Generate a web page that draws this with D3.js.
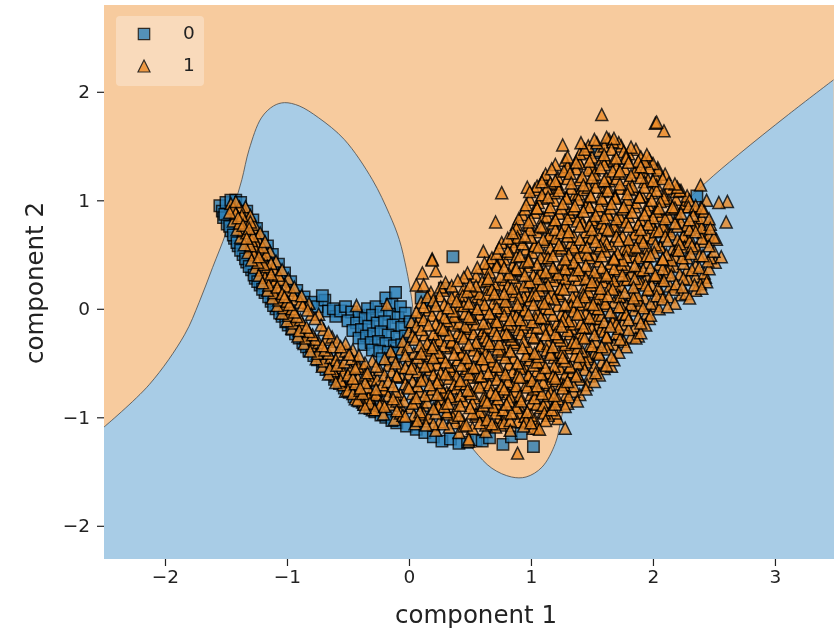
<!DOCTYPE html>
<html>
<head>
<meta charset="utf-8">
<script src="https://cdn.jsdelivr.net/npm/d3@7"></script>
<style>
  html, body { margin: 0; padding: 0; background: #fff; }
  svg { display: block; filter: blur(0.45px); }
  text { font-family: "DejaVu Sans", sans-serif; fill: #222; }
</style>
</head>
<body>
<div id="chart"></div>
<script>
const xTicks = [-2, -1, 0, 1, 2, 3];
const yTicks = [-2, -1, 0, 1, 2];
const legendLabels = ["0", "1"];

// edge between the two decision regions
const boundary = [
  [-2.5,-1.09],[-2.13,-.7],[-1.84,-.24],[-1.72,.06],[-1.61,.38],[-1.5,.7],[-1.43,.96],[-1.37,1.19],
  [-1.31,1.47],[-1.21,1.76],[-1.11,1.87],[-1.02,1.9],[-.9,1.87],[-.74,1.76],[-.53,1.56],[-.3,1.19],
  [-.16,.87],[-.08,.64],[-.02,.36],[.02,.11],[.08,-.38],[.29,-.93],[.53,-1.3],[.68,-1.47],[.84,-1.55],
  [.96,-1.55],[1.09,-1.46],[1.2,-1.24],[1.25,-1],[1.35,-.56],[1.56,-.1],[1.89,.45],[2.21,.91],
  [2.43,1.16],[2.7,1.42],[3.11,1.79],[3.48,2.11]
];

// class 0, long arm
const squaresArm = [
  [-1.55,.95],[-1.53,.9],[-1.5,.98],[-1.46,1],[-1.42,1],[-1.38,.98],[-1.52,.84],[-1.49,.78],[-1.46,.72],
  [-1.43,.65],[-1.4,.58],[-1.36,.5],[-1.33,.43],[-1.29,.36],[-1.26,.28],[-1.22,.22],[-1.18,.15],[-1.13,.07],
  [-1.09,.0],[-1.04,-.07],[-.99,-.15],[-.93,-.23],[-.87,-.31],[-.82,-.39],[-.75,-.47],[-.68,-.56],[-.61,-.65],
  [-.53,-.73],[-.45,-.81],[-.37,-.88],[-.28,-.95],[-.19,-1],[-.1,-1.05],[-1.33,.9],[-1.28,.82],[-1.25,.74],
  [-1.2,.66],[-1.16,.58],[-1.12,.5],[-1.07,.41],[-1.02,.33],[-.97,.25],[-.92,.17],[-.86,.11],[-.8,.06],[-.75,.02],
  [-.69,.08],[-.66,-.02],[-.6,-.07],[-.71,.12],[-.62,.0],[-.56,-.02],
  [-1.51,.87],[-1.47,.76],[-1.44,.68],[-1.41,.61],[-1.38,.54],[-1.34,.46],[-1.31,.39],[-1.27,.31],[-1.24,.25],[-1.2,.18],
  [-1.15,.11],[-1.11,.03],[-1.06,-.04],[-1.01,-.12],[-.96,-.19],[-.9,-.27],[-.84,-.35],[-.78,-.43],[-.71,-.52],[-.64,-.6],
  [-.57,-.69],[-.49,-.77],[-.41,-.85],[-.32,-.92],[-.23,-.98],[-.14,-1.03]
];
// class 0, pocket between the arm and the main cloud
const squaresPocket = [
  [-.52,.02],[-.47,-.03],[-.41,-.06],[-.34,.0],[-.27,.02],[-.19,.1],[-.11,.15],[-.14,.04],[-.07,.02],[-.5,-.11],
  [-.43,-.13],[-.36,-.09],[-.3,-.06],[-.23,-.03],[-.16,-.05],[-.09,-.08],[-.03,-.04],[-.46,-.2],[-.39,-.19],
  [-.33,-.16],[-.26,-.13],[-.2,-.12],[-.13,-.15],[-.06,-.17],[.01,-.12],[-.41,-.27],[-.35,-.25],[-.29,-.23],
  [-.23,-.21],[-.17,-.24],[-.1,-.26],[-.03,-.25],[-.37,-.33],[-.31,-.31],[-.25,-.3],[-.19,-.32],[-.12,-.34],
  [-.06,-.33],[-.3,-.38],[-.24,-.39],[-.17,-.4],[-.1,-.41],[-.22,-.46],[-.15,-.48],[.29,.19],[.36,.48],[.1,.1],[.18,.06]
];
// class 0, under the main cloud and the few on the far side
const squaresEdge = [
  [-.02,-1.08],[.06,-1.11],[.13,-1.14],[.2,-1.18],[.27,-1.22],[.34,-1.2],[.41,-1.24],[.48,-1.23],[.55,-1.21],
  [.6,-1.22],[.66,-1.19],[.77,-1.25],[.84,-1.18],[1.02,-1.27],[.92,-1.15],[2.36,1.04],[1.54,1.44]
];

// class 1, long arm
const trianglesArm = [
  [-1.46,.97],[-1.42,.99],[-1.39,.94],[-1.47,.89],[-1.42,.88],[-1.37,.86],[-1.44,.81],[-1.39,.79],[-1.34,.81],
  [-1.41,.73],[-1.36,.72],[-1.31,.74],[-1.38,.66],[-1.33,.65],[-1.28,.67],[-1.35,.59],[-1.3,.58],[-1.25,.6],
  [-1.32,.52],[-1.27,.5],[-1.22,.53],[-1.29,.45],[-1.24,.43],[-1.19,.46],[-1.26,.38],[-1.21,.36],[-1.16,.39],
  [-1.23,.31],[-1.18,.29],[-1.13,.32],[-1.2,.24],[-1.15,.22],[-1.1,.25],[-1.16,.17],[-1.11,.15],[-1.06,.18],
  [-1.12,.1],[-1.07,.08],[-1.02,.11],[-1.08,.03],[-1.03,.01],[-.98,.04],[-1.04,-.04],[-.99,-.06],[-.94,-.03],
  [-1,-.11],[-.95,-.13],[-.89,-.1],[-.96,-.18],[-.9,-.2],[-.84,-.17],[-.91,-.25],[-.85,-.27],[-.79,-.24],
  [-.86,-.32],[-.8,-.34],[-.74,-.31],[-.68,-.28],[-.81,-.39],[-.75,-.41],[-.69,-.38],[-.63,-.35],[-.76,-.46],
  [-.7,-.48],[-.64,-.45],[-.58,-.42],[-.52,-.39],[-.71,-.53],[-.65,-.55],[-.59,-.52],[-.53,-.49],[-.47,-.46],
  [-.66,-.6],[-.6,-.62],[-.54,-.59],[-.48,-.56],[-.42,-.53],[-.36,-.5],[-.6,-.68],[-.54,-.7],[-.48,-.67],
  [-.42,-.64],[-.36,-.61],[-.52,-.76],[-.46,-.78],[-.4,-.75],[-.34,-.72],[-.44,-.83],[-.38,-.86],[-.32,-.82],
  [-.26,-.8],[-.36,-.91],[-.3,-.93],[-.24,-.89],[-.43,.03],[-.18,.04],[-1.34,.94],[-1.3,.86],[-1.27,.78],
  [-1.22,.7],[-1.18,.62],[-1.14,.53],[-1.09,.44],[-1.04,.36],[-.99,.28],[-.94,.2],[-.88,.12],[-.82,.05],[-.74,-.05],
  [-1.44,.93],[-1.4,.84],[-1.36,.77],[-1.33,.7],[-1.29,.63],[-1.26,.55],[-1.23,.48],[-1.19,.41],[-1.16,.34],[-1.12,.27],
  [-1.08,.2],[-1.04,.14],[-1,.07],[-.96,0],[-.92,-.07],[-.87,-.14],[-.82,-.21],[-.77,-.28],[-.71,-.34],[-.66,-.41],
  [-.6,-.47],[-.55,-.54],[-.5,-.61],[-.44,-.69],[-.38,-.78],[-.32,-.87],[-1.3,.8],[-1.24,.65],[-1.17,.5],[-1.11,.37],
  [-1.05,.27],[-.99,.17],[-.93,.09],[-.87,.03],[-.8,-.05],[-.72,-.15],[-.66,-.22],[-.59,-.3],[-.52,-.32],[-.46,-.38],[-.41,-.43],
  [-1.35,.9],[-1.28,.75],[-1.2,.57],[-1.13,.42],[-1.07,.31],[-1.01,.21],[-.95,.13],[-.89,.06],[-.83,-.01],[-.77,-.09],
  [-.7,-.19],[-.63,-.26],[-.56,-.35],[-.49,-.42],[-.43,-.48],[-.37,-.55],[-.31,-.66],[-.27,-.74]
];
// class 1, main cloud, lower half
const trianglesLow = [
  [.22,-1.12],[.33,-1.09],[.41,-1.14],[.52,-1.1],[.63,-1.13],[.71,-1.09],[.83,-1.12],[.94,-1.08],[1.02,-1.1],[.49,-1.2],
  [-.12,-1.02],[-.03,-.99],[.07,-1.03],[.16,-1],[.25,-1.04],[.36,-1],[.44,-1.03],[.55,-.99],[.64,-1.02],[.74,-1],[.83,-1.03],[.95,-.99],[1.03,-1.02],[1.14,-.98],[1.22,-1.01],
  [-.28,-.93],[-.2,-.9],[-.1,-.94],[.01,-.91],[.09,-.95],[.2,-.92],[.29,-.9],[.38,-.94],[.5,-.91],[.58,-.95],[.69,-.9],[.77,-.93],[.88,-.91],[.97,-.95],[1.08,-.91],[1.17,-.93],[1.28,-.9],
  [-.42,-.84],[-.33,-.82],[-.22,-.86],[-.13,-.83],[-.04,-.85],[.06,-.82],[.15,-.86],[.26,-.83],[.34,-.81],[.45,-.85],[.54,-.82],[.64,-.86],[.73,-.83],[.83,-.81],[.92,-.85],[1.03,-.82],[1.12,-.86],[1.22,-.83],[1.31,-.81],[1.38,-.85],
  [-.5,-.75],[-.4,-.73],[-.31,-.77],[-.2,-.74],[-.11,-.76],[-.01,-.72],[.09,-.76],[.19,-.74],[.28,-.77],[.39,-.73],[.48,-.75],[.58,-.72],[.67,-.77],[.78,-.74],[.87,-.76],[.97,-.72],[1.06,-.75],[1.16,-.77],[1.26,-.73],[1.35,-.76],[1.45,-.74],
  [-.56,-.66],[-.46,-.64],[-.36,-.68],[-.26,-.65],[-.17,-.67],[-.06,-.63],[.03,-.67],[.13,-.65],[.23,-.68],[.33,-.64],[.42,-.66],[.52,-.63],[.62,-.68],[.72,-.65],[.81,-.67],[.91,-.63],[1.01,-.66],[1.1,-.68],[1.2,-.64],[1.3,-.67],[1.4,-.65],[1.52,-.67],
  [-.62,-.57],[-.44,-.55],[-.34,-.59],[-.24,-.56],[-.14,-.58],[-.03,-.54],[.07,-.58],[.17,-.56],[.26,-.59],[.36,-.55],[.46,-.57],[.56,-.54],[.65,-.59],[.75,-.56],[.85,-.58],[.95,-.54],[1.05,-.57],[1.15,-.59],[1.24,-.55],[1.34,-.58],[1.44,-.56],[1.53,-.59],[1.6,-.55],[1.66,-.53],
  [-.3,-.48],[-.2,-.46],[-.11,-.5],[0,-.47],[.1,-.49],[.2,-.45],[.3,-.49],[.4,-.47],[.49,-.5],[.59,-.46],[.69,-.48],[.79,-.45],[.89,-.5],[.99,-.47],[1.09,-.49],[1.19,-.45],[1.28,-.48],[1.38,-.5],[1.48,-.46],[1.58,-.49],[1.68,-.47],
  [-.15,-.39],[-.06,-.37],[.04,-.41],[.14,-.38],[.24,-.4],[.34,-.36],[.44,-.4],[.53,-.38],[.63,-.41],[.73,-.37],[.83,-.39],[.93,-.36],[1.03,-.41],[1.13,-.38],[1.23,-.4],[1.32,-.36],[1.42,-.39],[1.52,-.41],[1.62,-.37],[1.72,-.4],
  [-.05,-.3],[.05,-.28],[.15,-.32],[.25,-.29],[.35,-.31],[.45,-.27],[.55,-.31],[.64,-.29],[.74,-.32],[.84,-.28],[.94,-.3],[1.04,-.27],[1.14,-.32],[1.24,-.29],[1.34,-.31],[1.44,-.27],[1.53,-.3],[1.63,-.32],[1.73,-.28],[1.76,-.3],[1.86,-.27],
  [0,-.21],[.1,-.19],[.2,-.23],[.3,-.2],[.4,-.22],[.5,-.18],[.6,-.22],[.7,-.2],[.8,-.23],[.9,-.19],[1,-.21],[1.1,-.18],[1.2,-.23],[1.3,-.2],[1.4,-.22],[1.5,-.18],[1.6,-.21],[1.7,-.23],[1.8,-.19],[1.9,-.22],
  [.02,-.12],[.12,-.1],[.22,-.14],[.31,-.11],[.41,-.13],[.51,-.09],[.61,-.13],[.71,-.11],[.81,-.14],[.91,-.1],[1.01,-.12],[1.11,-.09],[1.21,-.14],[1.31,-.11],[1.41,-.13],[1.51,-.09],[1.6,-.12],[1.7,-.14],[1.8,-.1],[1.9,-.13],[1.97,-.09],
  [.06,-.03],[.16,-.01],[.26,-.05],[.36,-.02],[.46,-.04],[.56,0],[.66,-.04],[.75,-.02],[.85,-.05],[.95,-.01],[1.05,-.03],[1.15,0],[1.25,-.05],[1.35,-.02],[1.45,-.04],[1.55,0],[1.65,-.03],[1.75,-.05],[1.85,-.01],[1.95,-.04],[2.05,0]
];
// class 1, main cloud, upper half
const trianglesHigh = [
  [.1,.06],[.2,.08],[.29,.04],[.39,.07],[.49,.05],[.59,.09],[.69,.05],[.79,.07],[.89,.04],[.99,.08],[1.09,.06],[1.19,.09],[1.28,.04],[1.38,.07],[1.48,.05],[1.58,.09],[1.68,.06],[1.78,.04],[1.88,.08],[1.98,.05],[2.08,.09],[2.18,.05],
  [.18,.15],[.28,.17],[.38,.13],[.48,.16],[.58,.14],[.68,.18],[.78,.14],[.88,.16],[.97,.13],[1.07,.17],[1.17,.15],[1.27,.18],[1.37,.13],[1.47,.16],[1.57,.14],[1.67,.18],[1.77,.15],[1.87,.13],[1.97,.17],[2.07,.14],[2.17,.18],[2.27,.14],[2.35,.17],
  [.3,.24],[.4,.26],[.5,.22],[.6,.25],[.7,.23],[.79,.27],[.89,.23],[.99,.25],[1.09,.22],[1.19,.26],[1.29,.24],[1.39,.27],[1.49,.22],[1.59,.25],[1.69,.23],[1.79,.27],[1.89,.24],[1.99,.22],[2.09,.26],[2.19,.23],[2.29,.27],[2.39,.23],[2.44,.25],[2.4,.19],
  [.48,.33],[.56,.38],[.66,.34],[.72,.39],[.82,.32],[.92,.35],[1.02,.31],[1.12,.34],[1.22,.32],[1.32,.36],[1.42,.32],[1.52,.34],[1.62,.31],[1.72,.35],[1.82,.33],[1.92,.36],[2.02,.31],[2.12,.34],[2.22,.32],[2.32,.36],[2.42,.33],
  [.62,.42],[.66,.43],[.75,.44],[.85,.4],[.95,.43],[1.05,.41],[1.15,.45],[1.25,.41],[1.35,.43],[1.45,.4],[1.55,.44],[1.65,.42],[1.75,.45],[1.85,.4],[1.95,.43],[2.05,.41],[2.15,.45],[2.25,.42],[2.35,.4],[2.45,.44],[2.51,.43],[2.56,.48],
  [.61,.53],[.72,.51],[.81,.53],[.91,.49],[1.01,.52],[1.11,.5],[1.21,.54],[1.31,.5],[1.41,.52],[1.51,.49],[1.61,.53],[1.71,.51],[1.81,.54],[1.91,.49],[2.01,.52],[2.11,.5],[2.21,.54],[2.31,.51],[2.41,.49],[2.5,.53],
  [.76,.61],[.84,.62],[.93,.6],[1.03,.58],[1.13,.62],[1.23,.59],[1.33,.61],[1.43,.58],[1.53,.62],[1.62,.6],[1.72,.63],[1.82,.58],[1.92,.61],[2.02,.59],[2.12,.63],[2.22,.6],[2.32,.58],[2.42,.62],[2.52,.64],
  [.85,.7],[.95,.67],[1.05,.71],[1.15,.68],[1.25,.7],[1.35,.67],[1.45,.71],[1.55,.69],[1.65,.72],[1.75,.67],[1.85,.7],[1.95,.68],[2.05,.72],[2.15,.69],[2.25,.67],[2.35,.71],[2.46,.68],
  [.71,.8],[.88,.78],[.98,.8],[1.08,.76],[1.18,.79],[1.28,.77],[1.38,.81],[1.48,.77],[1.58,.79],[1.68,.76],[1.78,.8],[1.88,.78],[1.98,.81],[2.08,.76],[2.18,.79],[2.28,.77],[2.38,.81],[2.47,.78],[2.6,.8],
  [.93,.87],[1.03,.89],[1.13,.85],[1.23,.88],[1.33,.86],[1.43,.9],[1.53,.86],[1.63,.88],[1.73,.85],[1.83,.89],[1.93,.87],[2.03,.9],[2.13,.85],[2.23,.88],[2.33,.86],[2.42,.9],
  [.96,.96],[1.06,.98],[1.16,.94],[1.26,.97],[1.36,.95],[1.46,.99],[1.56,.95],[1.66,.97],[1.76,.94],[1.86,.98],[1.96,.96],[2.06,.99],[2.16,.94],[2.26,.97],[2.35,.95],[2.44,1],[2.54,.98],[2.61,.99],
  [.76,1.07],[.99,1.08],[1.09,1.05],[1.19,1.07],[1.29,1.03],[1.39,1.06],[1.49,1.04],[1.59,1.08],[1.69,1.04],[1.79,1.06],[1.89,1.03],[1.99,1.07],[2.09,1.05],[2.19,1.08],[2.28,1.04],
  [.97,1.12],[1.09,1.17],[1.16,1.16],[1.05,1.13],[1.23,1.12],[1.33,1.16],[1.43,1.14],[1.53,1.17],[1.63,1.12],[1.73,1.15],[1.83,1.13],[1.93,1.17],[2.03,1.14],[2.13,1.16],[2.2,1.12],[2.39,1.14],
  [1.12,1.24],[1.22,1.21],[1.32,1.25],[1.42,1.22],[1.52,1.24],[1.62,1.21],[1.72,1.25],[1.82,1.23],[1.92,1.26],[2.02,1.22],[2.1,1.24],
  [1.2,1.33],[1.3,1.31],[1.4,1.34],[1.5,1.3],[1.6,1.33],[1.7,1.31],[1.8,1.35],[1.9,1.31],[2,1.34],
  [1.3,1.4],[1.4,1.43],[1.5,1.4],[1.6,1.42],[1.7,1.39],[1.8,1.43],[1.9,1.4],[1.95,1.42],
  [1.26,1.51],[1.41,1.53],[1.47,1.5],[1.54,1.53],[1.6,1.5],[1.67,1.54],[1.74,1.5],[1.82,1.49],
  [1.58,1.79],[2.02,1.71],[2.03,1.72],[2.09,1.64],[1.62,1.58],[1.52,1.56],[1.68,1.57],
  [.19,.46],[.19,.45],[.22,.35],[.11,.33],[.12,.22],[.06,.22],[1.07,-1.11],[1.05,-1.1],[1.28,-1.1],[.89,-1.33],[.49,-1.22]
];
// class 1, second pass over the main cloud, lower half
const trianglesLow2 = [
  [.05,-1.06],[.14,-1.07],[.28,-1.06],[.38,-1.05],[.47,-1.07],[.58,-1.05],[.68,-1.06],[.78,-1.05],[.89,-1.04],[1,-1.05],[1.12,-1.03],
  [-.21,-.97],[-.07,-.96],[.04,-.98],[.12,-.97],[.22,-.96],[.31,-.97],[.41,-.98],[.52,-.96],[.61,-.98],[.71,-.96],[.8,-.97],[.91,-.96],[1,-.98],[1.11,-.96],[1.2,-.96],
  [-.37,-.88],[-.16,-.88],[-.07,-.89],[.03,-.87],[.12,-.89],[.23,-.88],[.32,-.87],[.42,-.89],[.52,-.87],[.61,-.89],[.71,-.87],[.8,-.88],[.9,-.89],[1,-.87],[1.1,-.89],[1.2,-.88],[1.3,-.87],
  [-.27,-.79],[-.17,-.8],[-.07,-.79],[.03,-.78],[.13,-.8],[.23,-.79],[.33,-.78],[.42,-.8],[.51,-.78],[.62,-.8],[.71,-.79],[.81,-.78],[.91,-.8],[1,-.79],[1.09,-.78],[1.19,-.8],[1.29,-.79],[1.4,-.79],
  [-.22,-.7],[-.13,-.71],[-.03,-.69],[.07,-.71],[.17,-.7],[.26,-.72],[.37,-.7],[.47,-.69],[.56,-.71],[.66,-.7],[.76,-.71],[.86,-.69],[.96,-.7],[1.05,-.71],[1.15,-.7],[1.25,-.69],[1.35,-.71],[1.46,-.7],
  [-.3,-.62],[-.2,-.61],[-.1,-.62],[0,-.6],[.1,-.62],[.2,-.61],[.3,-.6],[.39,-.62],[.49,-.6],[.59,-.62],[.69,-.61],[.79,-.6],[.89,-.62],[.98,-.61],[1.08,-.6],[1.18,-.62],[1.28,-.61],[1.38,-.6],[1.48,-.62],[1.56,-.61],
  [-.27,-.53],[-.17,-.52],[-.07,-.54],[.03,-.52],[.13,-.53],[.23,-.51],[.33,-.53],[.43,-.52],[.53,-.54],[.62,-.52],[.72,-.53],[.82,-.51],[.92,-.53],[1.02,-.52],[1.12,-.54],[1.22,-.52],[1.32,-.53],[1.42,-.51],[1.52,-.53],[1.62,-.52],
  [-.13,-.44],[-.03,-.43],[.07,-.45],[.17,-.43],[.27,-.44],[.37,-.42],[.47,-.45],[.56,-.43],[.66,-.44],[.76,-.42],[.86,-.45],[.96,-.43],[1.06,-.44],[1.16,-.42],[1.26,-.45],[1.36,-.43],[1.46,-.44],[1.56,-.42],[1.66,-.44],
  [-.01,-.35],[.09,-.34],[.19,-.36],[.29,-.34],[.39,-.35],[.49,-.33],[.59,-.36],[.69,-.34],[.78,-.35],[.88,-.33],[.98,-.36],[1.08,-.34],[1.18,-.35],[1.28,-.33],[1.38,-.36],[1.48,-.34],[1.58,-.35],[1.68,-.33],[1.78,-.35],
  [.03,-.25],[.13,-.24],[.23,-.26],[.33,-.24],[.43,-.25],[.53,-.23],[.62,-.26],[.72,-.24],[.82,-.25],[.92,-.23],[1.02,-.26],[1.12,-.24],[1.22,-.25],[1.32,-.23],[1.42,-.26],[1.52,-.24],[1.62,-.25],[1.72,-.23],[1.82,-.26],[1.88,-.25],
  [.06,-.16],[.16,-.15],[.26,-.17],[.36,-.15],[.46,-.16],[.55,-.14],[.65,-.17],[.75,-.15],[.85,-.16],[.95,-.14],[1.05,-.17],[1.15,-.15],[1.25,-.16],[1.35,-.14],[1.45,-.17],[1.55,-.15],[1.65,-.16],[1.75,-.14],[1.85,-.17],[1.94,-.15],
  [.09,-.07],[.19,-.06],[.29,-.08],[.39,-.06],[.49,-.07],[.58,-.05],[.68,-.08],[.78,-.06],[.88,-.07],[.98,-.05],[1.08,-.08],[1.18,-.06],[1.28,-.07],[1.38,-.05],[1.48,-.08],[1.58,-.06],[1.68,-.07],[1.78,-.05],[1.88,-.08],[1.98,-.06]
];
// class 1, second pass over the main cloud, upper half
const trianglesHigh2 = [
  [.12,.02],[.22,.03],[.32,.01],[.42,.03],[.52,.02],[.62,.04],[.72,.01],[.82,.03],[.92,.02],[1.02,.04],[1.12,.01],[1.22,.03],[1.32,.02],[1.42,.04],[1.52,.01],[1.62,.03],[1.72,.02],[1.82,.04],[1.92,.01],[2.02,.03],[2.12,.02],
  [.15,.11],[.25,.12],[.35,.1],[.44,.12],[.54,.11],[.64,.13],[.74,.1],[.84,.12],[.94,.11],[1.04,.13],[1.14,.1],[1.24,.12],[1.34,.11],[1.43,.13],[1.53,.1],[1.63,.12],[1.73,.11],[1.83,.13],[1.93,.1],[2.03,.12],[2.13,.11],[2.23,.13],[2.3,.1],
  [.26,.2],[.35,.21],[.45,.19],[.55,.21],[.65,.2],[.75,.22],[.84,.19],[.94,.21],[1.04,.2],[1.14,.22],[1.24,.19],[1.34,.21],[1.44,.2],[1.54,.22],[1.64,.19],[1.74,.21],[1.84,.2],[1.94,.22],[2.04,.19],[2.14,.21],[2.24,.2],[2.34,.22],
  [.45,.29],[.55,.3],[.65,.28],[.75,.3],[.85,.29],[.95,.31],[1.05,.28],[1.15,.3],[1.25,.29],[1.35,.31],[1.45,.28],[1.55,.3],[1.65,.29],[1.75,.31],[1.85,.28],[1.95,.3],[2.05,.29],[2.15,.31],[2.25,.28],[2.35,.3],[2.43,.29],
  [.63,.37],[.78,.38],[.88,.37],[.98,.39],[1.08,.36],[1.18,.38],[1.28,.37],[1.38,.39],[1.48,.36],[1.58,.38],[1.68,.37],[1.78,.39],[1.88,.36],[1.98,.38],[2.08,.37],[2.18,.39],[2.28,.36],[2.38,.38],[2.46,.37],
  [.68,.47],[.78,.46],[.88,.48],[.98,.46],[1.08,.47],[1.18,.49],[1.28,.46],[1.38,.48],[1.48,.47],[1.58,.49],[1.68,.46],[1.78,.48],[1.88,.47],[1.98,.49],[2.08,.46],[2.18,.48],[2.28,.47],[2.38,.49],[2.47,.47],
  [.74,.56],[.86,.57],[.96,.55],[1.06,.57],[1.16,.56],[1.26,.58],[1.36,.55],[1.46,.57],[1.56,.56],[1.66,.58],[1.76,.55],[1.86,.57],[1.96,.56],[2.06,.58],[2.16,.55],[2.26,.57],[2.36,.56],[2.46,.58],
  [.81,.65],[.9,.64],[1,.66],[1.1,.64],[1.2,.65],[1.3,.67],[1.4,.64],[1.5,.66],[1.6,.65],[1.7,.67],[1.8,.64],[1.9,.66],[2,.65],[2.1,.67],[2.2,.64],[2.3,.66],[2.4,.65],[2.5,.66],
  [.88,.74],[.99,.73],[1.1,.75],[1.2,.73],[1.3,.74],[1.4,.76],[1.5,.73],[1.6,.75],[1.7,.74],[1.8,.76],[1.9,.73],[2,.75],[2.1,.74],[2.2,.76],[2.3,.73],[2.4,.75],[2.47,.74],
  [.9,.83],[1,.82],[1.1,.84],[1.2,.82],[1.3,.83],[1.4,.85],[1.5,.82],[1.6,.84],[1.7,.83],[1.8,.85],[1.9,.82],[2,.84],[2.1,.83],[2.2,.85],[2.3,.82],[2.4,.84],[2.46,.83],
  [.95,.92],[1.05,.93],[1.15,.91],[1.25,.93],[1.35,.92],[1.45,.94],[1.55,.91],[1.65,.93],[1.75,.92],[1.85,.94],[1.95,.91],[2.05,.93],[2.15,.92],[2.25,.94],[2.35,.91],[2.4,.93],
  [.99,1.01],[1.09,1.02],[1.19,1],[1.29,1.02],[1.39,1.01],[1.49,1.03],[1.59,1],[1.69,1.02],[1.79,1.01],[1.89,1.03],[1.99,1],[2.09,1.02],[2.19,1.01],[2.3,1],
  [1.03,1.1],[1.13,1.11],[1.23,1.09],[1.33,1.11],[1.43,1.1],[1.53,1.12],[1.63,1.09],[1.73,1.11],[1.83,1.1],[1.93,1.12],[2.03,1.09],[2.13,1.11],[2.22,1.09],
  [1.1,1.2],[1.2,1.18],[1.3,1.2],[1.4,1.19],[1.5,1.21],[1.6,1.18],[1.7,1.2],[1.8,1.19],[1.9,1.21],[2,1.18],[2.08,1.2],
  [1.17,1.29],[1.27,1.27],[1.37,1.29],[1.47,1.28],[1.57,1.3],[1.67,1.27],[1.77,1.29],[1.87,1.28],[1.97,1.3],[2.04,1.28],
  [1.28,1.37],[1.38,1.38],[1.48,1.36],[1.58,1.38],[1.68,1.37],[1.78,1.39],[1.88,1.36],[1.97,1.38],
  [1.44,1.47],[1.56,1.46],[1.66,1.47],[1.76,1.45],[1.86,1.47],[1.64,1.56],[1.72,1.53],[1.45,1.44]
];
// class 1, third pass, strands along the length of the cloud
const trianglesStrands = [
  [-.2,-.75],[-.1,-.62],[.02,-.55],[.1,-.41],[.2,-.33],[.28,-.19],[.37,-.07],[.45,.03],[.53,.17],[.64,.26],[.72,.41],[.83,.51],[.89,.66],[.98,.77],[1.05,.93],[1.14,1.03],[1.21,1.15],[1.28,1.27],[1.37,1.35],
  [-.05,-.98],[.06,-.86],[.17,-.79],[.24,-.65],[.35,-.57],[.43,-.42],[.54,-.34],[.61,-.2],[.72,-.12],[.79,.01],[.9,.1],[.97,.24],[1.08,.33],[1.14,.47],[1.25,.56],[1.31,.71],[1.42,.79],[1.48,.94],[1.58,1.02],[1.64,1.18],[1.73,1.27],[1.78,1.41],
  [.2,-1.06],[.31,-.95],[.39,-.83],[.5,-.76],[.57,-.62],[.68,-.53],[.76,-.39],[.86,-.31],[.93,-.17],[1.04,-.09],[1.11,.05],[1.22,.14],[1.28,.28],[1.39,.36],[1.46,.5],[1.57,.58],[1.63,.73],[1.74,.81],[1.8,.95],[1.91,1.04],[1.96,1.19],[2.04,1.3],
  [.45,-1.08],[.55,-.97],[.62,-.84],[.73,-.76],[.8,-.62],[.91,-.55],[.98,-.41],[1.08,-.33],[1.15,-.19],[1.26,-.11],[1.33,.03],[1.44,.11],[1.5,.25],[1.61,.33],[1.68,.47],[1.79,.55],[1.85,.69],[1.96,.78],[2.03,.92],[2.13,1],[2.18,1.15],
  [.75,-1.07],[.84,-.96],[.91,-.83],[1.02,-.74],[1.09,-.61],[1.19,-.53],[1.26,-.4],[1.37,-.31],[1.43,-.17],[1.54,-.09],[1.61,.05],[1.72,.12],[1.78,.27],[1.89,.35],[1.95,.49],[2.06,.57],[2.12,.72],[2.23,.8],[2.29,.94],
  [1.1,-.95],[1.2,-.85],[1.27,-.7],[1.37,-.62],[1.45,-.49],[1.55,-.4],[1.62,-.26],[1.72,-.18],[1.78,-.04],[1.89,.03],[1.96,.18],[2.07,.26],[2.13,.4],[2.24,.47],[2.3,.62],[2.41,.7],
  [-.1,-.85],[0,-.73],[.1,-.66],[.17,-.52],[.27,-.45],[.35,-.3],[.46,-.22],[.52,-.08],[.63,0],[.7,.14],[.81,.21],[.87,.36],[.98,.44],[1.03,.59],[1.14,.66],[1.2,.81],[1.31,.89],[1.36,1.05],[1.47,1.12],[1.52,1.28],[1.62,1.36],
  [.12,-1.01],[.24,-.9],[.31,-.77],[.42,-.69],[.48,-.55],[.6,-.46],[.66,-.32],[.77,-.24],[.83,-.1],[.94,-.02],[1.01,.12],[1.12,.2],[1.18,.35],[1.29,.42],[1.35,.57],[1.46,.65],[1.52,.8],[1.63,.87],[1.69,1.03],[1.8,1.11],[1.85,1.26],[1.93,1.36],
  [.63,-1.07],[.7,-.93],[.82,-.85],[.88,-.71],[.98,-.63],[1.05,-.49],[1.16,-.4],[1.22,-.26],[1.33,-.18],[1.4,-.04],[1.51,.04],[1.57,.19],[1.68,.26],[1.74,.41],[1.85,.48],[1.91,.63],[2.02,.71],[2.07,.86],[2.18,.93],[2.23,1.09],
  [.96,-1.03],[1.05,-.88],[1.14,-.8],[1.21,-.66],[1.32,-.54],[1.4,-.44],[1.5,-.34],[1.57,-.2],[1.67,-.12],[1.74,.02],[1.84,.1],[1.91,.24],[2.01,.31],[2.08,.46],[2.19,.54],[2.25,.68],[2.35,.77],[2.39,.93]
];

const width = 834, height = 632;
const plot = { left: 104, right: 834, top: 5, bottom: 559 };

const x = d3.scaleLinear().domain([-2.5, 3.484]).range([plot.left, plot.right]);
const y = d3.scaleLinear().domain([2.8, -2.306]).range([plot.top, plot.bottom]);

const svg = d3.select("#chart").append("svg")
    .attr("width", width)
    .attr("height", height);

// orange region is the whole plot, blue region goes on top of it
svg.append("rect")
    .attr("x", plot.left)
    .attr("y", plot.top)
    .attr("width", plot.right - plot.left)
    .attr("height", plot.bottom - plot.top)
    .attr("fill", "#f7cb9e");

const edge = d3.line()
    .x(d => x(d[0]))
    .y(d => y(d[1]))
    .curve(d3.curveCatmullRom);

svg.append("path")
    .attr("d", edge(boundary) + "L" + plot.right + "," + plot.bottom + "L" + plot.left + "," + plot.bottom + "Z")
    .attr("fill", "#a8cce6");

svg.append("path")
    .attr("d", edge(boundary))
    .attr("fill", "none")
    .attr("stroke", "#4a4a4a")
    .attr("stroke-width", 0.8);

// matplotlib markers: the triangle is as tall as it is wide
const squarePath = "M-5.7,-5.7H5.7V5.7H-5.7Z";
const trianglePath = "M0,-6L6,6H-6Z";

const blue = "#2b80b8", orange = "#ec8a26";

function drawMarkers(points, path, color) {
    svg.append("g").selectAll("path")
        .data(points)
        .enter().append("path")
        .attr("d", path)
        .attr("transform", d => "translate(" + x(d[0]) + "," + y(d[1]) + ")")
        .attr("fill", color)
        .attr("stroke", "#000")
        .attr("stroke-width", 1.5)
        .attr("opacity", 0.8);
}

// the samples are not plotted row by row, so mix the painting order
const paintOrder = d => (Math.abs(d[0] * 37.3 + d[1] * 91.7)) % 1;

drawMarkers([...squaresArm, ...squaresPocket, ...squaresEdge], squarePath, blue);
drawMarkers(
    d3.sort([...trianglesArm, ...trianglesLow, ...trianglesLow2, ...trianglesHigh, ...trianglesHigh2, ...trianglesStrands], paintOrder),
    trianglePath, orange);

// axes
const xAxis = svg.append("g")
    .attr("transform", "translate(0," + plot.bottom + ")")
    .call(d3.axisBottom(x).tickValues(xTicks).tickSize(7).tickPadding(4).tickFormat(d3.format("d")));
const yAxis = svg.append("g")
    .attr("transform", "translate(" + plot.left + ",0)")
    .call(d3.axisLeft(y).tickValues(yTicks).tickSize(7).tickPadding(7).tickFormat(d3.format("d")));

for (const axis of [xAxis, yAxis]) {
    axis.select(".domain").remove();
    axis.selectAll("line").attr("stroke", "#222").attr("stroke-width", 1.2);
    axis.selectAll("text").style("font-family", '"DejaVu Sans", sans-serif').style("font-size", "18.5px").attr("fill", "#222");
}

svg.append("text")
    .attr("x", 476)
    .attr("y", 623)
    .attr("text-anchor", "middle")
    .style("font-size", "24.5px")
    .text("component 1");

svg.append("text")
    .attr("transform", "translate(43,283) rotate(-90)")
    .attr("text-anchor", "middle")
    .style("font-size", "24.5px")
    .text("component 2");

// legend
const legend = svg.append("g");
legend.append("rect")
    .attr("x", 116)
    .attr("y", 16)
    .attr("width", 88)
    .attr("height", 70)
    .attr("rx", 4)
    .attr("fill", "#fff")
    .attr("fill-opacity", 0.3);

legendLabels.forEach((label, i) => {
    const rowY = 34 + i * 32;
    legend.append("path")
        .attr("d", i === 0 ? squarePath : trianglePath)
        .attr("transform", "translate(144," + rowY + ")")
        .attr("fill", i === 0 ? blue : orange)
        .attr("stroke", "#000")
        .attr("stroke-width", 1.2)
        .attr("opacity", 0.8);
    legend.append("text")
        .attr("x", 189)
        .attr("y", rowY + 5)
        .attr("text-anchor", "middle")
        .style("font-size", "18.5px")
        .text(label);
});
</script>
</body>
</html>
